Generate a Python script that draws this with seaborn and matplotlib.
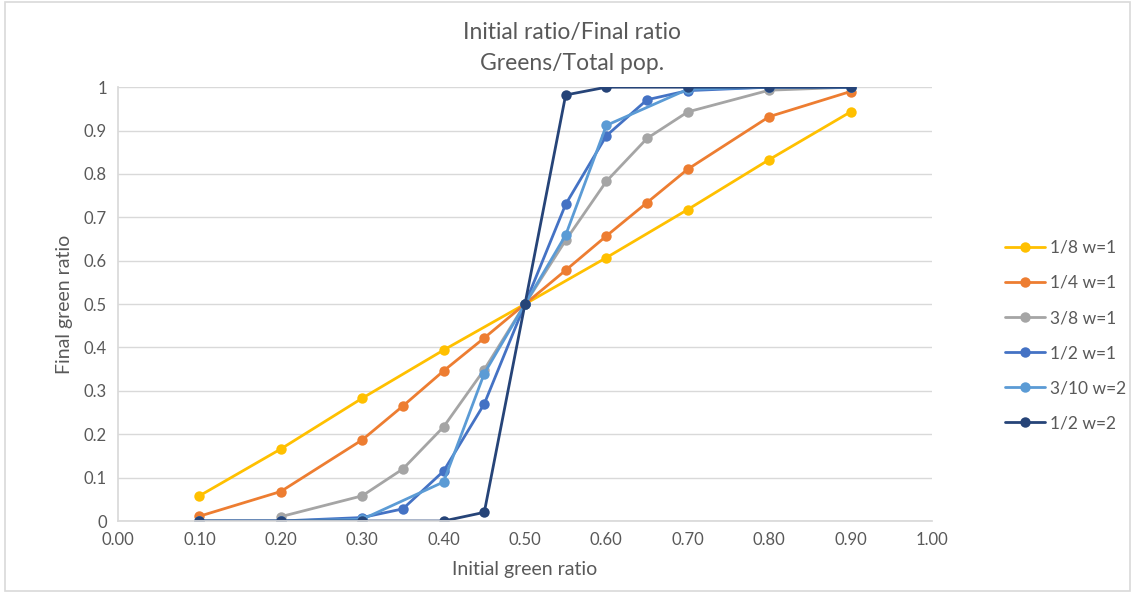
import matplotlib
matplotlib.use("Agg")
import matplotlib.pyplot as plt
import seaborn as sns
import pandas as pd
from matplotlib.ticker import FuncFormatter, MultipleLocator
from matplotlib.patches import Rectangle

# ---- data ----
labels = ["1/8 w=1", "1/4 w=1", "3/8 w=1", "1/2 w=1", "3/10 w=2", "1/2 w=2"]
colors = ["#FFC000", "#ED7D31", "#A5A5A5", "#4472C4", "#5B9BD5", "#264478"]

x_18 = [0.1, 0.2, 0.3, 0.4, 0.5, 0.6, 0.7, 0.8, 0.9]
y_18 = [0.058, 0.166, 0.283, 0.394, 0.5, 0.607, 0.718, 0.833, 0.943]

x_14 = [0.1, 0.2, 0.3, 0.35, 0.4, 0.45, 0.5, 0.55, 0.6, 0.65, 0.7, 0.8, 0.9]
y_14 = [0.011, 0.068, 0.187, 0.265, 0.346, 0.422, 0.5, 0.578, 0.657, 0.734, 0.811, 0.932, 0.99]

x_38 = [0.2, 0.3, 0.35, 0.4, 0.45, 0.5, 0.55, 0.6, 0.65, 0.7, 0.8, 0.9]
y_38 = [0.01, 0.058, 0.12, 0.217, 0.349, 0.5, 0.647, 0.783, 0.882, 0.943, 0.993, 1.0]

x_12 = [0.1, 0.2, 0.3, 0.35, 0.4, 0.45, 0.5, 0.55, 0.6, 0.65, 0.7, 0.8, 0.9]
y_12 = [0.0, 0.0, 0.008, 0.028, 0.115, 0.27, 0.5, 0.73, 0.888, 0.971, 0.992, 1.0, 1.0]

x_310 = [0.1, 0.2, 0.3, 0.4, 0.45, 0.5, 0.55, 0.6, 0.7, 0.8, 0.9]
y_310 = [0.0, 0.0, 0.004, 0.09, 0.34, 0.5, 0.659, 0.912, 0.995, 1.0, 1.0]

x_12w2 = [0.1, 0.2, 0.3, 0.4, 0.45, 0.5, 0.55, 0.6, 0.7, 0.8, 0.9]
y_12w2 = [0.0, 0.0, 0.0, 0.0, 0.02, 0.5, 0.982, 1.0, 1.0, 1.0, 1.0]

series_x = [x_18, x_14, x_38, x_12, x_310, x_12w2]
series_y = [y_18, y_14, y_38, y_12, y_310, y_12w2]

# ---- plot ----
sns.set_theme(style="white")
plt.rcParams["font.family"] = ["Lato", "DejaVu Sans"]
text_color = "#595959"

fig = plt.figure(figsize=(11.4, 5.93), dpi=100)
ax = fig.add_axes([0.1035, 0.1214, 0.714, 0.7316])

for lab, col, xs, ys in zip(labels, colors, series_x, series_y):
    df = pd.DataFrame({"x": xs, "y": ys})
    sns.lineplot(data=df, x="x", y="y", ax=ax, color=col, marker="o",
                 markersize=7.5, markeredgewidth=0, linewidth=2.0,
                 sort=False, label=lab)

ax.set_xlim(0, 1.0)
ax.set_ylim(0, 1.0)
ax.xaxis.set_major_locator(MultipleLocator(0.1))
ax.yaxis.set_major_locator(MultipleLocator(0.1))
ax.xaxis.set_major_formatter(FuncFormatter(lambda v, p: f"{v:.2f}"))

def yfmt(v, p):
    if abs(v) < 1e-9:
        return "0"
    if abs(v - 1) < 1e-9:
        return "1"
    return f"{v:.1f}"

ax.yaxis.set_major_formatter(FuncFormatter(yfmt))
ax.grid(axis="y", color="#D9D9D9", linewidth=1)
ax.grid(axis="x", visible=False)
ax.set_axisbelow(True)
for s in ["top", "right"]:
    ax.spines[s].set_visible(False)
ax.spines["left"].set_color("#D9D9D9")
ax.spines["bottom"].set_color("#D9D9D9")
ax.tick_params(axis="both", length=0, labelsize=12, labelcolor=text_color, pad=8)

ax.set_xlabel("Initial green ratio", fontsize=14, color=text_color, labelpad=9)
ax.set_ylabel("Final green ratio", fontsize=14, color=text_color, labelpad=8)

fig.text(0.502, 0.946, "Initial ratio/Final ratio", ha="center", va="center",
         fontsize=16.5, color=text_color)
fig.text(0.502, 0.893, "Greens/Total pop.", ha="center", va="center",
         fontsize=16.5, color=text_color)

ax.get_legend().remove()
handles, labs = ax.get_legend_handles_labels()
leg = fig.legend(handles, labs, loc="center left", bbox_to_anchor=(0.868, 0.434),
                 frameon=False, fontsize=12.5, labelspacing=1.1,
                 handlelength=2.3, handletextpad=0.3, labelcolor=text_color)

fig.patches.append(Rectangle((0.004, 0.004), 0.987, 0.992, transform=fig.transFigure,
                             fill=False, edgecolor="#D9D9D9", linewidth=1.2))

fig.savefig("out.png", dpi=100)
